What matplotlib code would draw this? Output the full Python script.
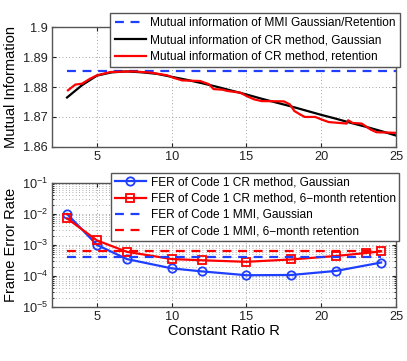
import matplotlib
matplotlib.use("Agg")
import matplotlib.pyplot as plt
import matplotlib.ticker as mticker

plt.rcParams['font.family'] = ['Liberation Sans', 'DejaVu Sans']
plt.rcParams['mathtext.fontset'] = 'custom'
plt.rcParams['mathtext.rm'] = 'Liberation Sans'

# ---------- Data: mutual information ----------
mi_x = [3, 4, 5, 6, 7, 8, 9, 10, 11, 12, 13, 14, 15, 16, 17, 18, 19, 20, 21, 22, 23, 24, 25]
mi_gauss = [1.8765, 1.8806, 1.8838, 1.8849, 1.8852, 1.8849, 1.8844, 1.8834, 1.8824,
            1.8813, 1.8801, 1.8788, 1.8775, 1.8761, 1.8748, 1.8735, 1.8721, 1.8707,
            1.8694, 1.8680, 1.8667, 1.8653, 1.8638]

ret_x = [3.06, 3.55, 4.0, 4.55, 5.0, 5.9, 7.45, 8.6, 9.7, 10.1, 10.7, 11.9, 12.5, 12.8,
         13.4, 13.7, 14.6, 15.0, 15.5, 16.0, 17.5, 17.9, 18.2, 18.6, 18.9, 19.6, 20.05,
         20.5, 21.7, 21.8, 22.1, 22.7, 23.3, 23.7, 24.4, 25.0]
mi_ret = [1.8789, 1.8808, 1.8811, 1.8828, 1.8839, 1.8850, 1.8852, 1.8848, 1.8839, 1.8831,
          1.8822, 1.8820, 1.8809, 1.8793, 1.8791, 1.8787, 1.8781, 1.8770, 1.8759, 1.8753,
          1.8752, 1.8742, 1.8720, 1.8708, 1.8700, 1.8700, 1.8691, 1.8683, 1.8678, 1.8689,
          1.8680, 1.8678, 1.8658, 1.8649, 1.8648, 1.8647]

mi_mmi = 1.8853
mi_mmi_x = [3, 25]

# ---------- Data: frame error rate ----------
fer_x_gauss = [3, 5, 7, 10, 12, 15, 18, 21, 24]
fer_gauss = [1.0e-2, 1.0e-3, 3.5e-4, 1.75e-4, 1.4e-4, 1.05e-4, 1.07e-4, 1.45e-4, 2.7e-4]
fer_x_ret = [3, 5, 7, 10, 12, 15, 18, 21, 23, 24]
fer_ret = [7.2e-3, 1.4e-3, 6.0e-4, 3.5e-4, 3.2e-4, 2.85e-4, 3.4e-4, 4.4e-4, 5.5e-4, 6.2e-4]
fer_mmi_x = [3, 24]
fer_mmi_gauss = 4.0e-4
fer_mmi_ret = 6.4e-4

labels_top = ["Mutual information of MMI Gaussian/Retention",
              "Mutual information of CR method, Gaussian",
              "Mutual information of CR method, retention"]
labels_bot = ["FER of Code 1 CR method, Gaussian",
              "FER of Code 1 CR method, 6\u2212month retention",
              "FER of Code 1 MMI, Gaussian",
              "FER of Code 1 MMI, 6\u2212month retention"]

blue = "#1f3fff"
red = "#ff0000"
spine_col = "#555555"

fig = plt.figure(figsize=(4.07, 3.61), dpi=100)
ax1 = fig.add_axes([0.128, 0.593, 0.845, 0.332])
ax2 = fig.add_axes([0.128, 0.150, 0.845, 0.343])


def style_axes(ax):
    for sp in ax.spines.values():
        sp.set_color(spine_col)
        sp.set_linewidth(1.0)
    ax.tick_params(direction="in", labelsize=9.2, colors="#222222", length=3,
                   top=True, right=True, pad=3)
    ax.tick_params(which="minor", direction="in", length=1.5, top=True, right=True)
    ax.yaxis.set_label_coords(-0.098, 0.5)


# ---------- Top: mutual information ----------
ax1.plot(mi_mmi_x, [mi_mmi, mi_mmi], "--", color=blue, lw=1.6, dashes=(4, 3),
         label=labels_top[0])
ax1.plot(mi_x, mi_gauss, "-", color="black", lw=1.6, label=labels_top[1])
ax1.plot(ret_x, mi_ret, "-", color=red, lw=1.6, label=labels_top[2])
ax1.set_xlim(2, 25)
ax1.set_ylim(1.86, 1.9)
ax1.set_xticks([5, 10, 15, 20, 25])
ax1.set_yticks([1.86, 1.87, 1.88, 1.89, 1.9])
ax1.set_yticklabels(["1.86", "1.87", "1.88", "1.89", "1.9"])
ax1.grid(True, linestyle=(0, (1, 3)), color="#888888", lw=0.6)
ax1.set_ylabel("Mutual Information", fontsize=10.5)
style_axes(ax1)
leg1 = ax1.legend(loc="upper right", bbox_to_anchor=(1.012, 1.117), fontsize=8.6,
                  frameon=True, fancybox=False, edgecolor=spine_col, framealpha=1,
                  handlelength=2.6, handletextpad=0.4, borderpad=0.35, labelspacing=0.4,
                  borderaxespad=0)
leg1.get_frame().set_linewidth(1.0)
leg1.set_zorder(5)

# ---------- Bottom: frame error rate ----------
ax2.semilogy(fer_x_gauss, fer_gauss, "-o", color=blue, lw=1.6, ms=6, mfc="none",
             mew=1.3, label=labels_bot[0])
ax2.semilogy(fer_x_ret, fer_ret, "-s", color=red, lw=1.6, ms=5.5, mfc="none",
             mew=1.3, label=labels_bot[1])
ax2.semilogy(fer_mmi_x, [fer_mmi_gauss] * 2, "--", color=blue, lw=1.6, dashes=(4, 3),
             label=labels_bot[2])
ax2.semilogy(fer_mmi_x, [fer_mmi_ret] * 2, "--", color=red, lw=1.6, dashes=(4, 3),
             label=labels_bot[3])
ax2.set_xlim(2, 25)
ax2.set_ylim(1e-5, 1e-1)
ax2.set_xticks([5, 10, 15, 20, 25])
ax2.yaxis.set_major_locator(mticker.LogLocator(base=10, numticks=10))
ax2.yaxis.set_minor_locator(mticker.LogLocator(base=10, subs=range(2, 10), numticks=20))
ax2.yaxis.set_minor_formatter(mticker.NullFormatter())
ax2.grid(True, which="major", linestyle=(0, (1, 3)), color="#888888", lw=0.6)
ax2.grid(True, which="minor", axis="y", linestyle=(0, (1, 3)), color="#999999", lw=0.6)
ax2.set_ylabel("Frame Error Rate", fontsize=10.5)
ax2.set_xlabel("Constant Ratio R", fontsize=10.5, labelpad=1)
style_axes(ax2)
leg2 = ax2.legend(loc="upper right", bbox_to_anchor=(1.009, 1.081), fontsize=8.6,
                  frameon=True, fancybox=False, edgecolor=spine_col, framealpha=1,
                  handlelength=2.6, handletextpad=0.4, borderpad=0.3, labelspacing=0.35,
                  borderaxespad=0)
leg2.get_frame().set_linewidth(1.0)

fig.savefig("out.png", dpi=100)
